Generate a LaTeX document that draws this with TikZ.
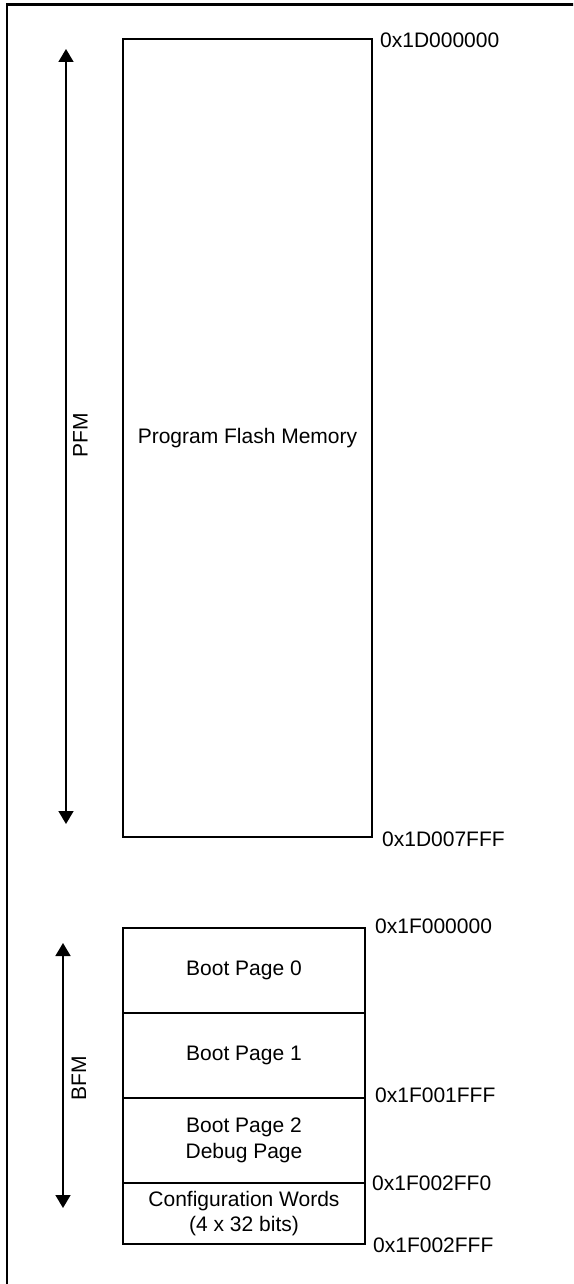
\documentclass[tikz,border=0pt]{standalone}
\usepackage{fontspec}
\setmainfont{Liberation Sans}
\usetikzlibrary{arrows.meta}
\begin{document}
\begin{tikzpicture}[x=1pt,y=-1pt,
  box/.style={draw, line width=2pt, inner sep=0pt, outer sep=0pt, align=center,
              font=\fontsize{21}{26}\selectfont, anchor=north west},
  lbl/.style={font=\fontsize{21}{26}\selectfont, inner sep=0pt},
  addr/.style={lbl, anchor=base west},
  dimarrow/.style={line width=1.6pt,
    {Triangle[width=15pt,length=13pt]}-{Triangle[width=15pt,length=13pt]}},
]
\useasboundingbox (0,0) rectangle (573,1284);
\clip (0,0) rectangle (573,1284);
% outer frame (right and bottom sides lie outside the picture)
\draw[line width=2.5pt] (7,4.5) rectangle (585,1295);

% Program Flash Memory
\node[box, minimum width=249pt, minimum height=798pt] (pfm) at (123,39) {Program Flash Memory};
\node[addr] (a1) at (380,48) {0x1D000000};
\node[addr] (a2) at (382,846) {0x1D007FFF};

% Boot Flash Memory
\node[box, minimum width=242pt, minimum height=85pt] (b0) at (123,928) {Boot Page 0};
\node[box, minimum width=242pt, minimum height=85pt] (b1) at (b0.south west) {Boot Page 1};
\node[box, minimum width=242pt, minimum height=85pt] (b2) at (b1.south west) {Boot Page 2\\Debug Page};
\node[box, minimum width=242pt, minimum height=61pt, font=\fontsize{21}{25}\selectfont] (b3) at (b2.south west) {Configuration Words\\(4 x 32 bits)};
\node[addr] (a3) at (375,933) {0x1F000000};
\node[addr] (a4) at (375,1102) {0x1F001FFF};
\node[addr] (a5) at (372,1190) {0x1F002FF0};
\node[addr] (a6) at (373,1252) {0x1F002FFF};

% dimension arrows
\coordinate (pfmtop) at (66,49);
\coordinate (pfmbot) at (66,824);
\draw[dimarrow] (pfmtop) -- (pfmbot);
\node[lbl, rotate=90] (pfmlbl) at (80.5,435) {PFM};

\coordinate (bfmtop) at (63,943);
\coordinate (bfmbot) at (63,1208);
\draw[dimarrow] (bfmtop) -- (bfmbot);
\node[lbl, rotate=90] (bfmlbl) at (79,1078) {BFM};
\end{tikzpicture}
\end{document}
